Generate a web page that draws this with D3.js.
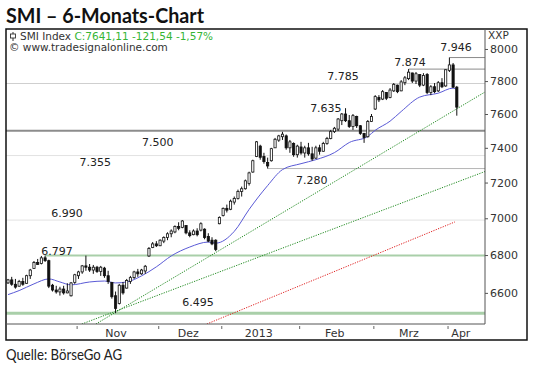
<!DOCTYPE html>
<html>
<head>
<meta charset="utf-8">
<script src="https://cdn.jsdelivr.net/npm/d3@7/dist/d3.min.js"></script>
<style>
  body { margin: 0; background: #fff; }
  svg { display: block; }
</style>
</head>
<body>
<div class="chart"></div>
<script>
// SMI daily bars, trading day index 0 = 5 Oct 2012 ... 121 = 4 Apr 2013
const opens = [6652,6668,6645,6635,6660,6650,6690,6728,6760,6755,6785,6770,6640,6615,6605,6620,6600,6585,6655,6690,
  6710,6742,6735,6720,6735,6712,6730,6690,6655,6585,6545,6640,6625,6660,6680,6710,6700,6715,6795,6840,
  6860,6850,6875,6895,6915,6925,6955,6950,6960,6920,6910,6930,6935,6940,6900,6880,6880,6970,7015,7055,
  7050,7090,7110,7150,7165,7195,7260,7350,7410,7350,7315,7325,7400,7445,7465,7470,7400,7425,7360,7405,
  7370,7400,7365,7340,7400,7380,7425,7455,7495,7510,7560,7600,7560,7525,7585,7530,7485,7465,7555,7630,
  7700,7690,7730,7700,7740,7775,7740,7790,7815,7850,7800,7840,7775,7840,7730,7765,7740,7790,7770,7865,
  7900,7762.65];
const highs = [6673,6684,6673,6668,6679,6695,6726,6768,6779,6795,6797,6775,6647,6637,6632,6637,6650,6657,6700,6716,
  6747,6797,6752,6747,6742,6742,6737,6716,6657,6607,6647,6657,6673,6689,6716,6726,6726,6747,6843,6870,
  6875,6885,6901,6923,6939,6961,6978,6990,6961,6934,6939,6945,6978,6945,6918,6896,6885,7010,7060,7076,
  7104,7121,7160,7177,7217,7262,7331,7440,7418,7371,7343,7400,7458,7476,7494,7478,7446,7432,7418,7435,
  7412,7429,7406,7412,7418,7435,7464,7505,7523,7576,7606,7635,7594,7600,7590,7534,7487,7564,7600,7714,
  7714,7745,7733,7757,7788,7778,7806,7831,7874,7852,7856,7842,7849,7849,7775,7788,7800,7818,7872,7946,
  7912,7770];
const lows = [6647,6637,6622,6632,6637,6647,6673,6726,6747,6750,6763,6625,6607,6596,6586,6591,6598,6581,6647,6673,
  6700,6716,6710,6700,6705,6689,6679,6647,6570,6495,6540,6591,6622,6647,6673,6684,6695,6700,6790,6837,
  6843,6848,6864,6880,6896,6918,6934,6945,6912,6896,6907,6901,6928,6885,6869,6853,6821,6967,7010,7032,
  7045,7076,7104,7121,7160,7183,7256,7346,7331,7308,7280,7320,7400,7435,7446,7389,7371,7348,7343,7360,
  7343,7354,7325,7335,7360,7377,7418,7450,7487,7499,7534,7552,7517,7505,7517,7476,7429,7460,7552,7624,
  7672,7684,7684,7695,7733,7726,7738,7775,7806,7788,7782,7763,7769,7720,7714,7726,7733,7757,7765,7856,
  7757,7590];
const closes = [6668,6645,6630,6660,6645,6690,6720,6760,6750,6785,6770,6635,6615,6605,6620,6600,6610,6652,6695,6710,
  6742,6735,6720,6735,6712,6735,6690,6660,6580,6520,6640,6600,6665,6680,6710,6700,6720,6740,6835,6860,
  6850,6880,6895,6915,6930,6955,6945,6985,6920,6905,6930,6910,6970,6895,6875,6860,6830,7005,7055,7045,
  7095,7110,7150,7165,7210,7255,7325,7435,7345,7320,7295,7395,7450,7470,7480,7400,7435,7360,7410,7370,
  7400,7365,7335,7400,7380,7425,7455,7495,7515,7570,7600,7560,7525,7590,7530,7485,7460,7555,7585,7705,
  7685,7735,7695,7745,7780,7735,7795,7820,7855,7800,7845,7775,7835,7730,7765,7735,7790,7765,7870,7900,
  7762.65,7641.11];

// moving average as drawn (blue)
const maIdx = [0,3,7,11,14,17,22,26,29,32,36,40,44,49,54,56,61,65,70,74,79,83,88,92,97,99,103,106,111,116,120,121];
const maVals = [6591,6612,6647,6673,6657,6642,6657,6662,6652,6657,6689,6737,6795,6843,6870,6864,6928,7049,7183,7274,
  7308,7331,7372,7431,7467,7503,7557,7615,7702,7726,7757,7745];

const monthStarts = [19, 41, 58, 79, 99, 119];
const monthLabels = ["Nov", "Dez", "2013", "Feb", "Mrz", "Apr"];
const yTicks = [6600, 6800, 7000, 7200, 7400, 7600, 7800, 8000];

// support / resistance marks
const levels = [7946, 7874, 7785, 7635, 7500, 7355, 7280, 6990, 6797, 6495];
const levelFrom = [119, 108, -1, null, -1, -1, 70, -1, 10, -1];

// trend lines [startIndex, startValue, endIndex, endValue]
const trendGreen1 = [23.7, 6440, 128.6, 7733];
const trendGreen2 = [19.9, 6440, 128.6, 7263];
const trendRed = [53.6, 6440, 120.5, 6980];

const legendName = "SMI Index";
const legendQuote = "C:7641,11 -121,54 -1,57%";

const W = 540, H = 367;
const plot = {left: 6, top: 29, right: 485, bottom: 324};
const frame = {left: 6, top: 29, right: 527, bottom: 340};

const svg = d3.select('.chart')
  .append('svg')
    .attr('width', W)
    .attr('height', H)
    .attr('viewBox', `0 0 ${W} ${H}`);

const x = d3.scaleLinear().domain([-0.54, 128.6]).range([plot.left, plot.right]);
const y = d3.scaleLog().domain([6440, 8127]).range([plot.bottom, plot.top]);

const chartFont = 'DejaVu Sans, Verdana, sans-serif';

// title + source
svg.append('text')
  .attr('x', 6).attr('y', 23)
  .attr('font-family', 'Lato, sans-serif')
  .attr('font-weight', 'bold')
  .attr('font-size', 21)
  .attr('textLength', 198)
  .attr('lengthAdjust', 'spacingAndGlyphs')
  .attr('fill', '#111')
  .text('SMI – 6-Monats-Chart');

svg.append('text')
  .attr('x', 6).attr('y', 360)
  .attr('font-family', 'Lato, sans-serif')
  .attr('font-size', 15)
  .attr('textLength', 116)
  .attr('lengthAdjust', 'spacingAndGlyphs')
  .attr('fill', '#222')
  .text('Quelle: BörseGo AG');

svg.append('clipPath').attr('id', 'clip')
  .append('rect')
    .attr('x', plot.left).attr('y', plot.top)
    .attr('width', plot.right - plot.left).attr('height', plot.bottom - plot.top);

const graph = svg.append('g').attr('clip-path', 'url(#clip)');

// horizontal levels
const levelStyle = {
  7946: {stroke: '#8a8a8a', w: 1},
  7874: {stroke: '#8a8a8a', w: 1},
  7785: {stroke: '#cfcfcf', w: 1},
  7500: {stroke: '#8c8c8c', w: 2},
  7355: {stroke: '#e2e2e2', w: 1},
  7280: {stroke: '#b5b5b5', w: 1},
  6990: {stroke: '#e2e2e2', w: 1},
  6797: {stroke: '#a9cfa9', w: 2},
  6495: {stroke: '#a9cfa9', w: 3}
};
levels.forEach((v, k) => {
  if (levelFrom[k] === null) return;
  const st = levelStyle[v];
  const x0 = levelFrom[k] < 0 ? plot.left : x(levelFrom[k]);
  graph.append('line')
    .attr('x1', x0).attr('x2', plot.right)
    .attr('y1', y(v)).attr('y2', y(v))
    .attr('stroke', st.stroke)
    .attr('stroke-width', st.w);
});

// level labels (index position, vertical offset from the level)
const labelAt = [120.8, 108.4, 90.3, 85.7, 40.4, 23.5, 81.9, 15.9, 13.2, 51.2];
const labelDy = [-7, -3, -4, 4, 15, 10, 15, -3, -1, -7];
const fmt = d3.formatLocale({decimal: ',', thousands: '.', grouping: [3], currency: ['', '']}).format(',');
svg.append('g').selectAll('text')
  .data(levels)
  .enter()
  .append('text')
    .attr('x', (d, k) => x(labelAt[k]))
    .attr('y', (d, k) => y(d) + labelDy[k])
    .attr('text-anchor', 'middle')
    .attr('font-family', chartFont)
    .attr('font-size', 11)
    .attr('fill', '#222')
    .text(d => fmt(d));

// trend lines
const trendLine = d3.line().x(d => x(d[0])).y(d => y(d[1]));
[[trendGreen1, '#1f8a1f'], [trendGreen2, '#1f8a1f'], [trendRed, '#e02020']].forEach(([t, c]) => {
  graph.append('path')
    .attr('d', trendLine([[t[0], t[1]], [t[2], t[3]]]))
    .attr('fill', 'none')
    .attr('stroke', c)
    .attr('stroke-width', 1)
    .attr('stroke-dasharray', '1.2,1.3');
});

// moving average
const maLine = d3.line().curve(d3.curveMonotoneX).x(d => x(d[0])).y(d => y(d[1]));
graph.append('path')
  .attr('d', maLine(maIdx.map((d, k) => [d, maVals[k]])))
  .attr('fill', 'none')
  .attr('stroke', '#5a5ad6')
  .attr('stroke-width', 1);

// candles
const bars = closes.map((c, i) => ({i, o: opens[i], h: highs[i], l: lows[i], c}));
const bw = 2.2;
const candles = graph.selectAll('g.candle')
  .data(bars)
  .enter()
  .append('g');
candles.append('line')
  .attr('x1', d => x(d.i)).attr('x2', d => x(d.i))
  .attr('y1', d => y(d.h)).attr('y2', d => y(d.l))
  .attr('stroke', '#111')
  .attr('stroke-width', 1);
candles.append('rect')
  .attr('x', d => x(d.i) - bw / 2)
  .attr('width', bw)
  .attr('y', d => y(Math.max(d.o, d.c)))
  .attr('height', d => Math.max(1, Math.abs(y(d.o) - y(d.c))))
  .attr('fill', d => d.c >= d.o ? '#fff' : '#111')
  .attr('stroke', '#111')
  .attr('stroke-width', 0.8);

// frame
svg.append('rect')
  .attr('x', frame.left).attr('y', frame.top)
  .attr('width', frame.right - frame.left).attr('height', frame.bottom - frame.top)
  .attr('fill', 'none').attr('stroke', '#111').attr('stroke-width', 1.5);
svg.append('line')
  .attr('x1', plot.right).attr('x2', plot.right).attr('y1', plot.top).attr('y2', plot.bottom)
  .attr('stroke', '#555');
svg.append('line')
  .attr('x1', plot.left).attr('x2', plot.right).attr('y1', plot.bottom).attr('y2', plot.bottom)
  .attr('stroke', '#555');

// right axis
const yAxis = d3.axisRight(y).tickValues(yTicks).tickSize(3).tickPadding(2).tickFormat(d3.format('d'));
const yAxisGroup = svg.append('g').attr('transform', `translate(${plot.right}, 0)`).call(yAxis);
yAxisGroup.select('.domain').remove();
yAxisGroup.selectAll('line').attr('stroke', '#555');
yAxisGroup.selectAll('text')
  .attr('font-family', chartFont)
  .attr('font-size', 11)
  .attr('fill', '#333');
svg.append('text')
  .attr('x', plot.right + 3).attr('y', 39)
  .attr('font-family', chartFont).attr('font-size', 10.5).attr('fill', '#333')
  .text('XXP');

// bottom axis: month boundary ticks + labels in the middle of each month
const xTickAxis = d3.axisBottom(x).tickValues(monthStarts.map(d => d - 0.5)).tickSize(3).tickFormat('');
const xTickGroup = svg.append('g').attr('transform', `translate(0, ${plot.bottom + 2})`).call(xTickAxis);
xTickGroup.select('.domain').remove();
xTickGroup.selectAll('line').attr('stroke', '#666');

const ends = monthStarts.slice(1).concat([monthStarts[monthStarts.length - 1] + 8]);
const mids = monthStarts.map((s, k) => (s - 0.5 + ends[k] - 0.5) / 2);
const xLabelAxis = d3.axisBottom(x).tickValues(mids).tickSize(0).tickPadding(0)
  .tickFormat((d, k) => monthLabels[k]);
const xLabelGroup = svg.append('g').attr('transform', `translate(-2, ${plot.bottom + 5})`).call(xLabelAxis);
xLabelGroup.select('.domain').remove();
xLabelGroup.selectAll('text')
  .attr('font-family', chartFont)
  .attr('font-size', 11)
  .attr('fill', '#333');

// legend
const lg = svg.append('g');
lg.append('line').attr('x1', 13).attr('x2', 13).attr('y1', 32).attr('y2', 41).attr('stroke', '#333');
lg.append('rect').attr('x', 10.5).attr('y', 34).attr('width', 5).attr('height', 4)
  .attr('fill', '#fff').attr('stroke', '#333').attr('stroke-width', 0.9);
const t1 = lg.append('text')
  .attr('x', 20).attr('y', 40)
  .attr('font-family', chartFont).attr('font-size', 10.5).attr('fill', '#333');
t1.append('tspan').text(legendName + ' ');
t1.append('tspan').attr('fill', '#35b535').text(legendQuote);
lg.append('text')
  .attr('x', 9).attr('y', 51)
  .attr('font-family', chartFont).attr('font-size', 10.5).attr('fill', '#333')
  .text('© www.tradesignalonline.com');
</script>
</body>
</html>
